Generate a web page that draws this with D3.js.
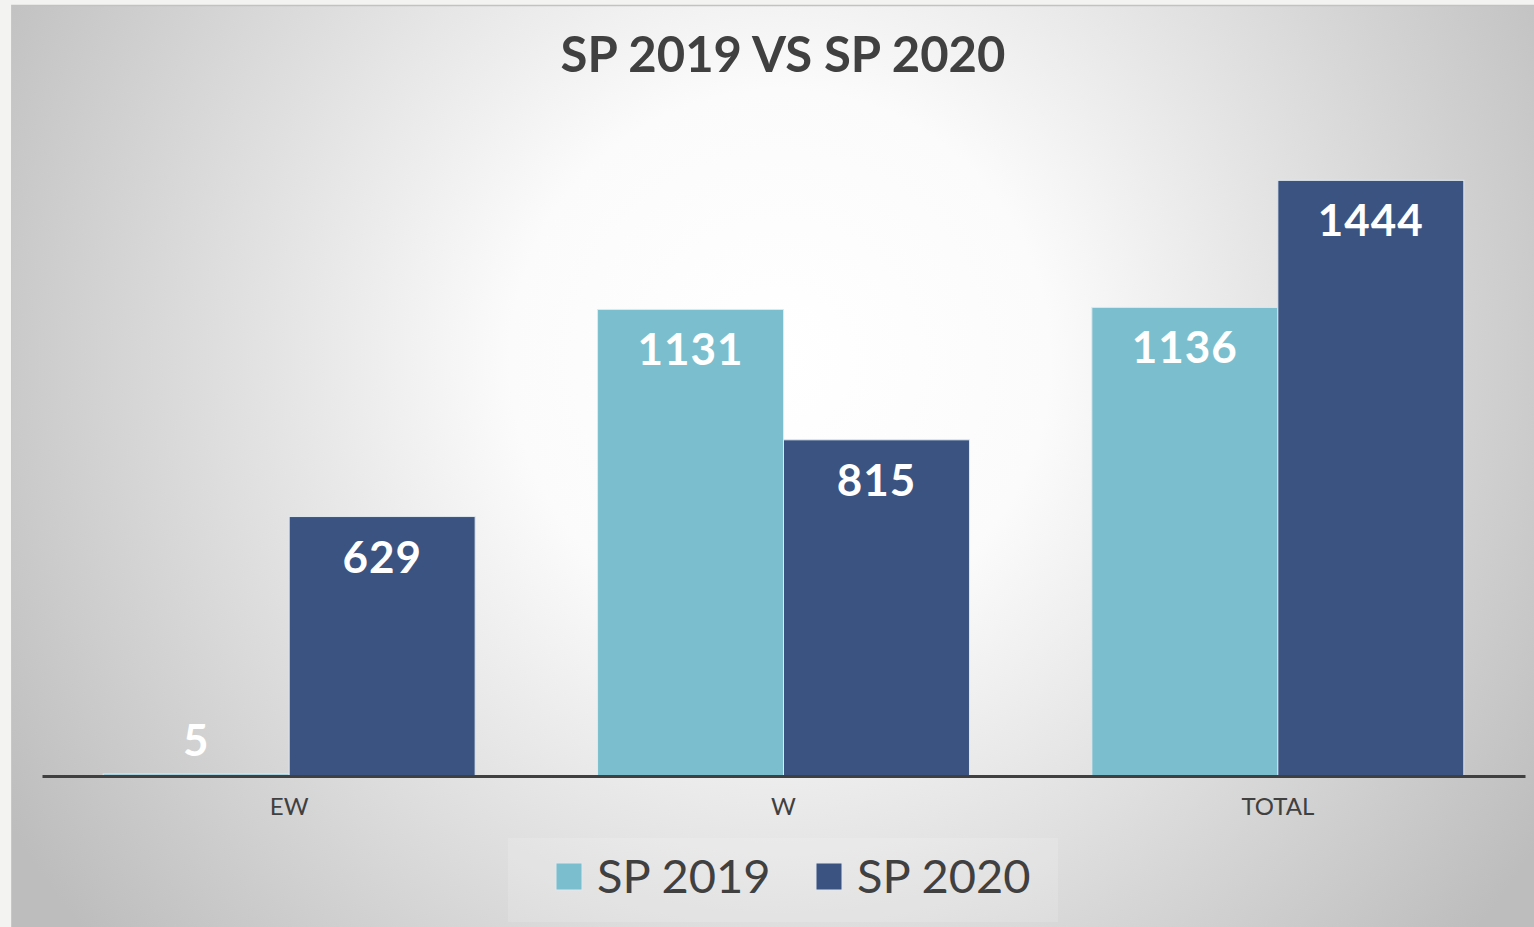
<!DOCTYPE html>
<html>
<head>
<meta charset="utf-8">
<script src="https://cdn.jsdelivr.net/npm/d3@7"></script>
<style>
  body { margin: 0; background: #f3f3f1; overflow: hidden; }
  svg { display: block; }
</style>
</head>
<body>
<div id="chart"></div>
<script>
// data
let categories = ["EW", "W", "TOTAL"]
let series = ["SP 2019", "SP 2020"]
let sp2019 = [5, 1131, 1136]
let sp2020 = [629, 815, 1444]
let colors = ["#7bbfce", "#3b5381"]

let width = 1534, height = 927
let font = "Lato, 'Open Sans', sans-serif"

let svg = d3.select("#chart")
    .append("svg")
    .attr("width", width)
    .attr("height", height)

// background gradient (light in the middle, grey at the edges)
let defs = svg.append("defs")
let grad = defs.append("radialGradient")
    .attr("id", "bg")
    .attr("gradientUnits", "userSpaceOnUse")
    .attr("cx", 780).attr("cy", 360).attr("r", 900)
grad.append("stop").attr("offset", "0%").attr("stop-color", "#ffffff")
grad.append("stop").attr("offset", "30%").attr("stop-color", "#fbfbfb")
grad.append("stop").attr("offset", "100%").attr("stop-color", "#bdbdbd")

svg.append("rect")
    .attr("x", 11).attr("y", 5)
    .attr("width", width - 11).attr("height", height - 5)
    .attr("fill", "url(#bg)")
svg.append("line")
    .attr("x1", 11).attr("x2", width)
    .attr("y1", 5.5).attr("y2", 5.5)
    .attr("stroke", "#c2c2c2").attr("stroke-width", 1.5)
svg.append("line")
    .attr("x1", 11.5).attr("x2", 11.5)
    .attr("y1", 5).attr("y2", height)
    .attr("stroke", "#c8c8c8").attr("stroke-width", 1)

let margin = {left: 42, right: 9, top: 116, bottom: 151}

let x0 = d3.scaleBand()
    .domain(categories)
    .range([margin.left, width - margin.right])
    .padding(0)

let x1 = d3.scaleBand()
    .domain(series)
    .range([0, x0.bandwidth()])
    .paddingInner(0)
    .paddingOuter(0.329)

let y = d3.scaleLinear()
    .domain([0, 1600])
    .range([height - margin.bottom, margin.top])

let rows = categories.map((c, i) => ({cat: c, values: [sp2019[i], sp2020[i]]}))

// title
svg.append("text")
    .attr("x", 783)
    .attr("y", 72)
    .attr("text-anchor", "middle")
    .style("font-family", font)
    .style("font-weight", "bold")
    .style("font-size", "49px")
    .style("fill", "#404040")
    .text("SP 2019 VS SP 2020")

let groups = svg.selectAll(".grp")
    .data(rows)
    .enter()
    .append("g")
    .attr("class", "grp")
    .attr("transform", d => `translate(${x0(d.cat)},0)`)

groups.selectAll("rect")
    .data(d => d.values.map((v, j) => ({key: series[j], value: v, j: j})))
    .enter()
    .append("rect")
    .attr("x", d => x1(d.key))
    .attr("y", d => y(d.value))
    .attr("width", x1.bandwidth())
    .attr("height", d => y(0) - y(d.value))
    .attr("fill", d => colors[d.j])
    .attr("stroke", "#dfe8ee")
    .attr("stroke-width", 1)

groups.selectAll(".lbl")
    .data(d => d.values.map((v, j) => ({key: series[j], value: v, j: j})))
    .enter()
    .append("text")
    .attr("class", "lbl")
    .attr("x", d => x1(d.key) + x1.bandwidth() / 2)
    .attr("y", d => Math.min(y(d.value) + 56, y(0) - 20))
    .attr("text-anchor", "middle")
    .style("font-family", font)
    .style("font-weight", "bold")
    .style("font-size", "44px")
    .style("letter-spacing", "1px")
    .style("fill", "#ffffff")
    .text(d => d.value)

// x axis
let xAxis = svg.append("g")
    .attr("transform", `translate(0,${y(0)})`)
    .call(d3.axisBottom(x0).tickSize(0).tickPadding(22))
xAxis.select(".domain")
    .attr("stroke", "#404040")
    .attr("stroke-width", 3)
xAxis.selectAll("text")
    .style("font-family", font)
    .style("font-size", "24px")
    .style("fill", "#404040")

// legend
svg.append("rect")
    .attr("x", 508).attr("y", 838)
    .attr("width", 550).attr("height", 84)
    .attr("fill", "#ffffff").attr("opacity", 0.15)

let legendX = [556, 816]
let legend = svg.selectAll(".leg")
    .data(series)
    .enter()
    .append("g")
    .attr("class", "leg")
    .attr("transform", (d, i) => `translate(${legendX[i]},863)`)
legend.append("rect")
    .attr("width", 26).attr("height", 27)
    .attr("fill", (d, i) => colors[i])
    .attr("stroke", "#dfe8ee")
legend.append("text")
    .attr("x", 41)
    .attr("y", 30)
    .style("font-family", font)
    .style("font-size", "47px")
    .style("fill", "#404040")
    .text(d => d)
</script>
</body>
</html>
